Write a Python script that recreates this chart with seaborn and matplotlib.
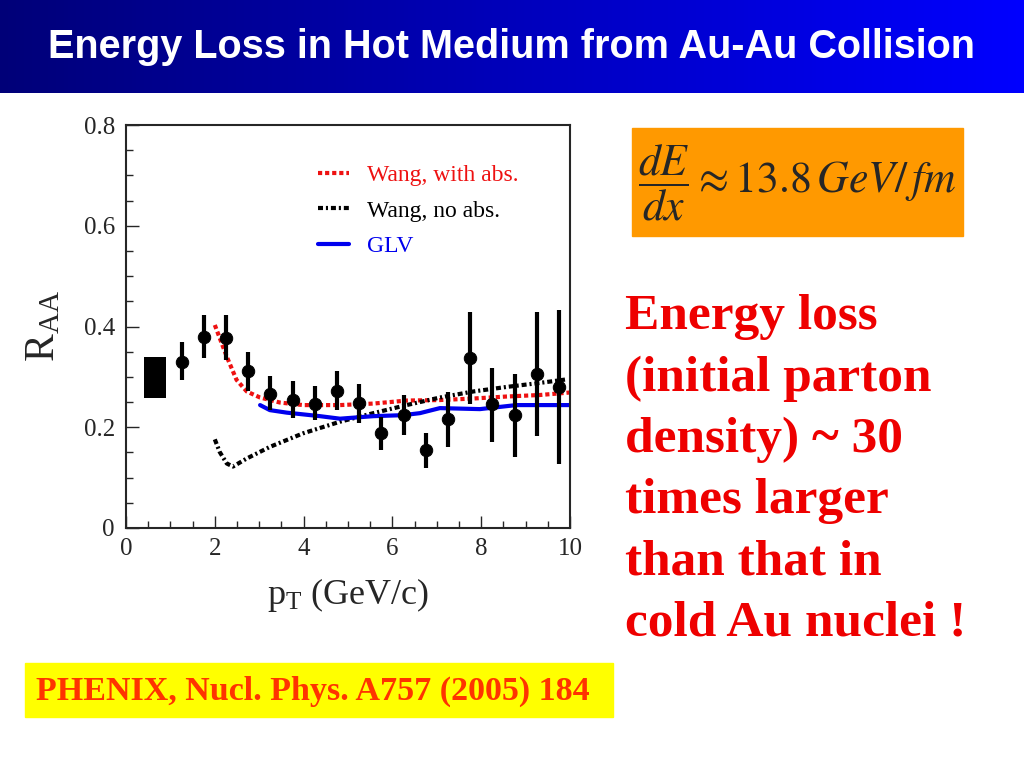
import numpy as np
import pandas as pd
import matplotlib
matplotlib.use("Agg")
import matplotlib.pyplot as plt
from matplotlib.patches import Rectangle
from matplotlib.ticker import MultipleLocator
import seaborn as sns

# PHENIX pi0 R_AA points
pt = [1.25, 1.75, 2.25, 2.75, 3.25, 3.75, 4.25, 4.75, 5.25, 5.75,
      6.25, 6.75, 7.25, 7.75, 8.25, 8.75, 9.25, 9.75]
raa = [0.330, 0.380, 0.378, 0.311, 0.266, 0.255, 0.247, 0.272, 0.249, 0.188,
       0.224, 0.155, 0.216, 0.338, 0.246, 0.224, 0.306, 0.280]
err_lo = [0.036, 0.043, 0.045, 0.039, 0.032, 0.037, 0.033, 0.038, 0.040, 0.033,
          0.039, 0.035, 0.055, 0.091, 0.075, 0.084, 0.123, 0.153]
err_hi = [0.039, 0.043, 0.045, 0.038, 0.036, 0.037, 0.035, 0.039, 0.036, 0.033,
          0.041, 0.034, 0.053, 0.090, 0.071, 0.082, 0.122, 0.153]

# normalisation uncertainty box
box_x = [0.40, 0.90]
box_y = [0.259, 0.340]

# theory curves
wang_abs_x = [2.0, 2.27, 2.49, 2.72, 3.02, 3.47, 3.99, 4.82, 5.57, 6.32,
              7.07, 7.82, 8.57, 9.32, 10.0]
wang_abs_y = [0.403, 0.340, 0.294, 0.271, 0.259, 0.249, 0.244, 0.244, 0.247, 0.253,
              0.254, 0.257, 0.261, 0.264, 0.269]
wang_noabs_x = [2.0, 2.11, 2.27, 2.41, 2.72, 3.24, 3.99, 4.82, 5.57, 6.32,
                7.07, 7.82, 8.57, 9.32, 9.92]
wang_noabs_y = [0.176, 0.151, 0.128, 0.122, 0.138, 0.161, 0.188, 0.211, 0.228, 0.244,
                0.259, 0.271, 0.280, 0.288, 0.295]
glv_x = [3.02, 3.24, 3.62, 4.37, 4.82, 5.57, 6.24, 6.62, 7.07, 7.97, 8.79, 10.0]
glv_y = [0.244, 0.234, 0.229, 0.222, 0.217, 0.222, 0.224, 0.228, 0.238, 0.236, 0.244, 0.244]

sns.set_style("ticks")
plt.rcParams['font.family'] = ['Liberation Serif', 'DejaVu Serif']
plt.rcParams['mathtext.fontset'] = 'stix'

fig = plt.figure(figsize=(10.24, 7.68), dpi=100)
fig.patch.set_facecolor('white')

# title bar with gradient
tax = fig.add_axes([0, 1 - 93 / 768, 1, 93 / 768])
grad = np.linspace(0, 1, 256).reshape(1, -1)
cmap = matplotlib.colors.LinearSegmentedColormap.from_list('bar', ['#000078', '#0000FF'])
tax.imshow(grad, aspect='auto', cmap=cmap, extent=[0, 1, 0, 1])
tax.set_axis_off()
tax.text(0.5, 0.49, 'Energy Loss in Hot Medium from Au-Au Collision', color='white',
         fontsize=28.5, fontweight='bold', ha='center', va='center',
         family=['Liberation Sans', 'DejaVu Sans'])

# main plot
ax = fig.add_axes([126 / 1024, 1 - 528 / 768, 444 / 1024, 403 / 768])
ax.fill_between(box_x, box_y[0], box_y[1], color='black', lw=0)

curves = pd.concat([
    pd.DataFrame({'pt': wang_abs_x, 'raa': wang_abs_y, 'model': 'Wang, with abs.'}),
    pd.DataFrame({'pt': wang_noabs_x, 'raa': wang_noabs_y, 'model': 'Wang, no abs.'}),
    pd.DataFrame({'pt': glv_x, 'raa': glv_y, 'model': 'GLV'}),
])
colors = {'Wang, with abs.': '#EE1111', 'Wang, no abs.': 'black', 'GLV': '#0000EE'}
styles = {'Wang, with abs.': (1, 0.7), 'Wang, no abs.': (1.2, 0.7, 0.5, 0.7), 'GLV': ''}
sns.lineplot(data=curves, x='pt', y='raa', hue='model', style='model',
             palette=colors, dashes=styles, linewidth=3, ax=ax, sort=False)

ax.errorbar(pt, raa, yerr=[err_lo, err_hi], fmt='none', ecolor='black', elinewidth=3, capsize=0)
sns.scatterplot(x=pt, y=raa, color='black', s=80, ax=ax, zorder=5, edgecolor='black')

ax.set_xlim(0, 10)
ax.set_ylim(0, 0.8)
ax.xaxis.set_major_locator(MultipleLocator(2))
ax.xaxis.set_minor_locator(MultipleLocator(0.5))
ax.yaxis.set_major_locator(MultipleLocator(0.2))
ax.yaxis.set_minor_locator(MultipleLocator(0.05))
ax.set_yticks([0, 0.2, 0.4, 0.6, 0.8])
ax.set_yticklabels(['0', '0.2', '0.4', '0.6', '0.8'])
ax.tick_params(which='both', direction='in', labelsize=18, width=1)
ax.tick_params(which='major', length=9)
ax.tick_params(which='minor', length=5)
ax.tick_params(axis='y', which='major', pad=8)
ax.tick_params(axis='x', which='major', pad=7)
for s in ax.spines.values():
    s.set_linewidth(1.5)
    s.set_visible(True)

ax.set_xlabel(r'$\mathregular{p_T}$ (GeV/c)', fontsize=26, labelpad=12)
ax.set_ylabel(r'$\mathregular{R_{AA}}$', fontsize=30, labelpad=15)

leg = ax.legend(loc='upper left', bbox_to_anchor=(0.385, 0.955), frameon=False,
                fontsize=17, handlelength=1.3, handletextpad=0.75, labelspacing=0.6)
for t, c in zip(leg.get_texts(), ['#EE1111', 'black', '#0000EE']):
    t.set_color(c)

# orange formula box
fig.patches.append(Rectangle((632 / 1024, 1 - 236 / 768), 331 / 1024, 108 / 768,
                             transform=fig.transFigure, color='#FF9900', zorder=0))
fig.text(638 / 1024, 1 - 183 / 768, r'$\dfrac{dE}{dx} \approx 13.8\,GeV/\,fm$',
         fontsize=31.5, va='center', ha='left')

# red statement
fig.text(625 / 1024, 1 - 294 / 768,
         'Energy loss\n(initial parton\ndensity) ~ 30\ntimes larger\nthan that in\ncold Au nuclei !',
         color='#EE0000', fontsize=37, fontweight='bold', va='top', ha='left', linespacing=1.43)

# yellow reference box
fig.patches.append(Rectangle((25 / 1024, 1 - 717 / 768), 588 / 1024, 54 / 768,
                             transform=fig.transFigure, color='#FFFF00', zorder=0))
fig.text(36 / 1024, 1 - 691 / 768, 'PHENIX, Nucl. Phys. A757 (2005) 184',
         color='#FF3300', fontsize=24.5, fontweight='bold', va='center', ha='left')

fig.savefig('out.png', dpi=100)
